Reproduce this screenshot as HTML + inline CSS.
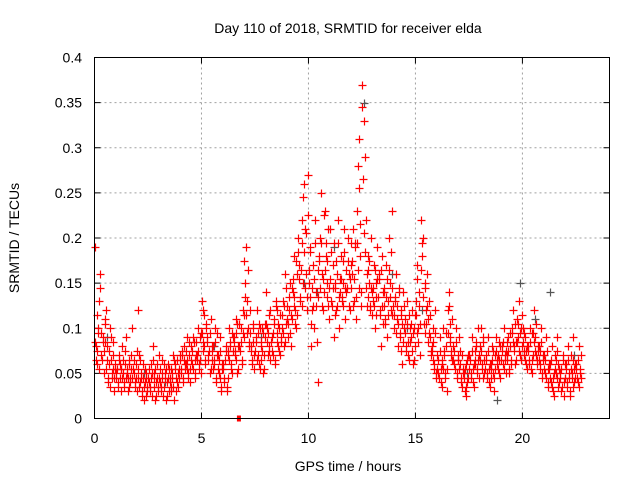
<!DOCTYPE html>
<html><head><meta charset="utf-8"><style>
body{margin:0;background:#fff}
svg{display:block;font-family:"Liberation Sans",sans-serif}
</style></head><body>
<svg id="chart" width="640" height="480" xmlns="http://www.w3.org/2000/svg">
<text x="348" y="33" font-size="14" text-anchor="middle">Day 110 of 2018, SRMTID for receiver elda</text>
<text x="348" y="471" font-size="14" text-anchor="middle">GPS time / hours</text>
<text x="19" y="238" font-size="14" text-anchor="middle" transform="rotate(-90 19 238)">SRMTID / TECUs</text>
<g id="grid"></g>
<g id="ticks"></g>
<g id="gray"></g>
<g id="red"></g>
<rect x="94.5" y="57.5" width="515" height="361" fill="none" stroke="#000" stroke-width="1"/>
</svg>
<script>
const xTicks=[0,5,10,15,20];
const yTicks=[0,0.05,0.1,0.15,0.2,0.25,0.3,0.35,0.4];
const yTickLabels=["0","0.05","0.1","0.15","0.2","0.25","0.3","0.35","0.4"];
const binWidth=0.25;
const redBins=[
[.19,.08,.06,.10,.13],[.16,.07,.09,.05,.11],[.12,.08,.04,.06,.10],[.09,.05,.07,.03,.06],
[.05,.04,.07,.06,.03],[.08,.05,.04,.06,.09],[.05,.03,.06,.04,.07],[.10,.05,.04,.06,.03],
[.12,.07,.04,.05,.03],[.06,.02,.04,.05,.03],[.04,.03,.06,.05,.08],[.05,.02,.04,.06,.03],
[.07,.04,.03,.05,.06],[.05,.02,.04,.06,.03],[.04,.03,.05,.07,.02],[.06,.03,.04,.05,.07],
[.05,.07,.04,.08,.06],[.06,.09,.05,.07,.04],[.08,.06,.09,.05,.07],[.07,.10,.06,.09,.05],
[.13,.12,.08,.06,.10],[.09,.07,.05,.11,.08],[.08,.06,.10,.04,.07],[.07,.05,.09,.03,.06],
[.06,.04,.08,.03,.07],[.10,.08,.06,.05,.09],[.09,.07,.11,.05,.08],[.08,.10,.06,.12,.09],
[.15,.19,.13,.10,.08],[.12,.08,.06,.10,.07],[.09,.12,.07,.06,.10],[.08,.10,.05,.07,.09],
[.14,.10,.07,.08,.12],[.09,.07,.11,.06,.13],[.12,.08,.10,.07,.09],[.10,.13,.08,.16,.11],
[.09,.12,.15,.08,.11],[.14,.18,.12,.10,.16],[.20,.17,.13,.22,.15],[.26,.21,.16,.12,.27],
[.15,.19,.08,.12,.17],[.10,.22,.14,.04,.18],[.20,.25,.16,.12,.14],[.23,.18,.15,.21,.11],
[.21,.13,.17,.09,.15],[.12,.16,.22,.10,.14],[.18,.13,.15,.21,.11],[.14,.20,.16,.12,.17],
[.16,.21,.13,.19,.11],[.23,.28,.31,.18,.14],[.37,.33,.29,.22,.16],[.18,.15,.12,.20,.14],
[.13,.17,.10,.15,.19],[.16,.12,.08,.18,.14],[.14,.11,.17,.09,.13],[.20,.15,.12,.23,.10],
[.13,.16,.11,.08,.14],[.09,.12,.06,.14,.10],[.11,.08,.13,.07,.10],[.09,.12,.06,.10,.08],
[.13,.17,.10,.14,.07],[.22,.18,.20,.15,.12],[.16,.11,.13,.09,.07],[.08,.10,.06,.12,.05],
[.07,.05,.09,.04,.06],[.10,.07,.05,.08,.03],[.12,.14,.09,.07,.11],[.08,.06,.10,.05,.07],
[.09,.06,.04,.07,.05],[.05,.03,.06,.04,.07],[.07,.05,.09,.04,.06],[.06,.08,.05,.10,.07],
[.08,.10,.06,.09,.05],[.07,.05,.09,.04,.06],[.06,.08,.05,.03,.07],[.09,.06,.07,.05,.08],
[.08,.06,.10,.07,.05],[.07,.09,.05,.08,.06],[.10,.12,.08,.06,.11],[.09,.13,.07,.10,.08],
[.10,.07,.09,.06,.08],[.08,.06,.10,.05,.07],[.12,.09,.07,.06,.08],[.08,.06,.10,.05,.07],
[.07,.05,.09,.04,.06],[.06,.04,.08,.03,.05],[.07,.05,.09,.06,.04],[.05,.03,.07,.04,.06],
[.06,.04,.08,.05,.03],[.07,.05,.09,.04,.06],[.06,.04,.08,.05,.07]
];
const redBins2=[
[.085,.065,.115,.075,.095,.055],[.145,.095,.065,.085,.075,.105],[.085,.055,.065,.045,.075,.035],[.065,.045,.055,.085,.045,.055],
[.045,.055,.035,.065,.045,.055],[.055,.045,.065,.035,.075,.045],[.055,.045,.035,.065,.045,.055],[.045,.055,.065,.035,.045,.075],
[.055,.045,.035,.065,.045,.025],[.045,.035,.055,.025,.045,.035],[.045,.055,.035,.045,.025,.065],[.035,.045,.055,.025,.045,.035],
[.045,.055,.035,.065,.045,.025],[.035,.045,.055,.025,.045,.055],[.045,.035,.055,.045,.035,.065],[.055,.045,.065,.035,.055,.045],
[.065,.055,.075,.045,.065,.055],[.075,.055,.065,.045,.085,.055],[.065,.075,.055,.085,.065,.045],[.085,.065,.075,.055,.065,.095],
[.095,.075,.085,.115,.065,.105],[.085,.065,.075,.095,.055,.065],[.075,.055,.065,.085,.045,.095],[.055,.065,.045,.075,.035,.055],
[.055,.045,.065,.075,.035,.045],[.075,.065,.085,.055,.095,.075],[.085,.075,.065,.095,.105,.055],[.105,.075,.085,.065,.095,.115],
[.175,.135,.115,.095,.165,.085],[.095,.075,.065,.085,.105,.055],[.075,.085,.065,.095,.105,.055],[.085,.065,.075,.095,.055,.105],
[.105,.085,.095,.075,.115,.065],[.085,.075,.095,.105,.065,.125],[.095,.085,.105,.075,.115,.085],[.115,.095,.125,.085,.145,.105],
[.125,.105,.135,.095,.115,.145],[.155,.125,.135,.105,.175,.115],[.185,.155,.135,.165,.125,.195],[.245,.185,.145,.205,.135,.225],
[.165,.135,.185,.105,.145,.125],[.155,.195,.125,.085,.165,.135],[.175,.145,.195,.125,.155,.225],[.165,.195,.135,.175,.125,.145],
[.155,.185,.125,.145,.195,.115],[.145,.175,.125,.195,.135,.155],[.155,.135,.175,.125,.185,.145],[.165,.145,.175,.125,.155,.195],
[.145,.175,.125,.155,.195,.135],[.195,.165,.255,.145,.215,.125],[.345,.265,.205,.185,.145,.125],[.165,.135,.175,.125,.145,.115],
[.145,.125,.165,.115,.135,.155],[.135,.155,.115,.165,.125,.105],[.125,.145,.105,.135,.155,.115],[.165,.135,.185,.115,.145,.125],
[.115,.135,.095,.125,.105,.145],[.095,.115,.075,.105,.085,.125],[.095,.075,.105,.085,.115,.065],[.085,.105,.075,.095,.065,.115],
[.115,.095,.155,.085,.125,.105],[.165,.195,.135,.105,.145,.095],[.105,.125,.085,.095,.115,.075],[.075,.065,.085,.055,.095,.045],
[.055,.065,.045,.075,.055,.035],[.065,.055,.075,.045,.095,.055],[.095,.125,.085,.105,.075,.065],[.065,.075,.055,.085,.045,.065],
[.065,.055,.075,.045,.035,.055],[.045,.055,.035,.025,.065,.045],[.055,.065,.045,.075,.055,.035],[.075,.065,.085,.055,.065,.045],
[.065,.075,.055,.085,.045,.065],[.055,.065,.045,.075,.055,.035],[.055,.045,.065,.075,.045,.055],[.075,.065,.055,.085,.065,.045],
[.065,.075,.085,.055,.065,.075],[.085,.065,.075,.055,.095,.065],[.095,.085,.075,.105,.065,.085],[.085,.105,.075,.095,.065,.115],
[.085,.075,.095,.065,.075,.055],[.075,.065,.085,.055,.095,.065],[.095,.085,.075,.105,.065,.075],[.065,.075,.055,.085,.045,.065],
[.055,.065,.045,.075,.055,.035],[.055,.045,.065,.035,.045,.025],[.055,.065,.045,.075,.035,.055],[.045,.055,.035,.065,.025,.045],
[.045,.055,.035,.065,.045,.025],[.055,.045,.065,.035,.055,.045],[.055,.045,.065,.035,.055,.045]
];
const grayTimes=[0.6,2.3,5.6,9.8,11.2,12.6,13.9,15.3,17.4,19.9,21.3,22.4,3.3,7.8,10.4,14.6,18.8,20.6];
const grayValues=[0.09,0.05,0.08,0.15,0.19,0.35,0.16,0.12,0.05,0.15,0.14,0.07,0.04,0.09,0.14,0.10,0.02,0.11];
const zeroTimes=[6.75];
const zeroValues=[0];
const NS="http://www.w3.org/2000/svg";
const X0=94.5,X1=609.5,Y0=418.5,Y1=57.5,XMAX=24.07,YMAX=0.4;
function xs(t){return X0+(X1-X0)*t/XMAX;}
function ys(v){return Y0-(Y0-Y1)*v/YMAX;}
function mk(tag,attrs,parent){const e=document.createElementNS(NS,tag);for(const k in attrs)e.setAttribute(k,attrs[k]);parent.appendChild(e);return e;}
const grid=document.getElementById('grid'),ticks=document.getElementById('ticks');
xTicks.forEach(t=>{
  const x=xs(t);
  if(t>0){const g=mk('line',{x1:x,x2:x,y1:Y1,y2:Y0,stroke:'#a0a0a0','stroke-dasharray':'2,3'},grid);
  
  }
  mk('line',{x1:x,x2:x,y1:Y0,y2:Y0-6,stroke:'#000'},ticks);
  mk('line',{x1:x,x2:x,y1:Y1,y2:Y1+6,stroke:'#000'},ticks);
  const l=mk('text',{x:x,y:443,'font-size':14,'text-anchor':'middle'},ticks);
  l.textContent=t;
  
  
});
yTicks.forEach((v,i)=>{
  const y=ys(v);
  if(v>0&&v<0.4){const g=mk('line',{x1:X0,x2:X1,y1:y,y2:y,stroke:'#a0a0a0','stroke-dasharray':'2,3'},grid);
  
  }
  mk('line',{x1:X0,x2:X0+6,y1:y,y2:y,stroke:'#000'},ticks);
  mk('line',{x1:X1,x2:X1-6,y1:y,y2:y,stroke:'#000'},ticks);
  const l=mk('text',{x:82,y:y+5,'font-size':14,'text-anchor':'end'},ticks);
  l.textContent=yTickLabels[i];
  
  
});
function plus(g,t,v,color){
  const x=Math.round(xs(t))+0.5,y=Math.round(ys(v))+0.5;
  const p=mk('path',{d:`M${x-4},${y}h8M${x},${y-4}v8`,stroke:color,'stroke-width':1.2,fill:'none'},g);
  
  
}
const gray=document.getElementById('gray'),red=document.getElementById('red');
grayTimes.forEach((t,i)=>plus(gray,t,grayValues[i],'#555'));
redBins.forEach((vals,i)=>{
  vals.forEach((v,j)=>plus(red,i*binWidth+(j+0.5)*binWidth/vals.length,v,'#f00'));
});
redBins2.forEach((vals,i)=>{
  vals.forEach((v,j)=>plus(red,i*binWidth+(j+0.25)*binWidth/vals.length,v,'#f00'));
});
zeroTimes.forEach((t,i)=>{
  const r=mk('rect',{x:xs(t)-2,y:ys(zeroValues[i])-3,width:4,height:6,fill:'#f00'},red);
  
  
});
</script>
</body></html>
